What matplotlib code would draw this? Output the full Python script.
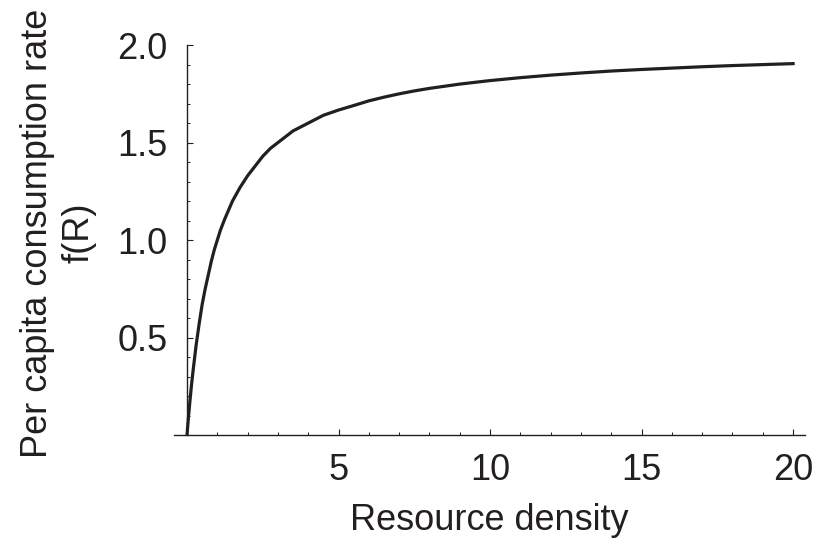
import matplotlib
matplotlib.use("Agg")
import matplotlib.pyplot as plt
from matplotlib.ticker import MultipleLocator, FixedLocator

plt.rcParams['font.family'] = ['Liberation Sans', 'DejaVu Sans']

# values
resource = [0, 0.02, 0.05, 0.1, 0.15, 0.2, 0.3, 0.4, 0.5, 0.6, 0.7, 0.8, 0.9, 1,
            1.1, 1.25, 1.5, 1.75, 2, 2.25, 2.5, 2.75, 3, 3.5, 4, 4.5, 5, 5.5, 6,
            6.5, 7, 7.5, 8, 9, 10, 11, 12, 13, 14, 15, 16, 17, 18, 19, 20]
consumption = [0, 0.04, 0.095, 0.18, 0.26, 0.33, 0.46, 0.57, 0.67, 0.75, 0.82,
               0.89, 0.95, 1.0, 1.05, 1.11, 1.2, 1.27, 1.33, 1.38, 1.43, 1.47,
               1.5, 1.56, 1.6, 1.64, 1.667, 1.69, 1.714, 1.733, 1.75, 1.765,
               1.778, 1.8, 1.818, 1.833, 1.846, 1.857, 1.867, 1.875, 1.882,
               1.889, 1.895, 1.9, 1.905]
xticks = [5, 10, 15, 20]
yticks = [0.5, 1.0, 1.5, 2.0]

fig = plt.figure(figsize=(8.23, 5.5), dpi=100)
ax = fig.add_axes([0.2114, 0.209, 0.767, 0.709])

ax.plot(resource, consumption, color='#231f20', lw=2.3, solid_joinstyle='round')

ax.set_xlim(-0.43, 20.4)
ax.set_ylim(0, 2.0)
ax.spines['top'].set_visible(False)
ax.spines['right'].set_visible(False)
ax.spines['left'].set_position(('data', 0))
for s in ['left', 'bottom']:
    ax.spines[s].set_linewidth(1.0)
    ax.spines[s].set_color('#231f20')

ax.xaxis.set_major_locator(FixedLocator(xticks))
ax.xaxis.set_minor_locator(MultipleLocator(1))
ax.yaxis.set_major_locator(FixedLocator(yticks))
ax.yaxis.set_minor_locator(MultipleLocator(0.1))
ax.set_yticklabels(['0.5', '1.0', '1.5', '2.0'])
ax.tick_params(which='major', direction='in', length=4, width=0.8, color='#231f20',
               labelsize=26, labelcolor='#231f20')
ax.tick_params(which='minor', direction='in', length=2.2, width=0.7, color='#231f20')
ax.tick_params(axis='x', pad=13)
ax.tick_params(axis='y', pad=14)

ax.set_xlabel('Resource density', fontsize=26, color='#231f20')
ax.xaxis.set_label_coords(0.5, -0.175)
ax.set_ylabel('Per capita consumption rate\nf(R)', fontsize=26, color='#231f20',
              multialignment='center', linespacing=1.25)
ax.yaxis.set_label_coords(-0.123, 0.518)

plt.savefig('out.png', dpi=100)
